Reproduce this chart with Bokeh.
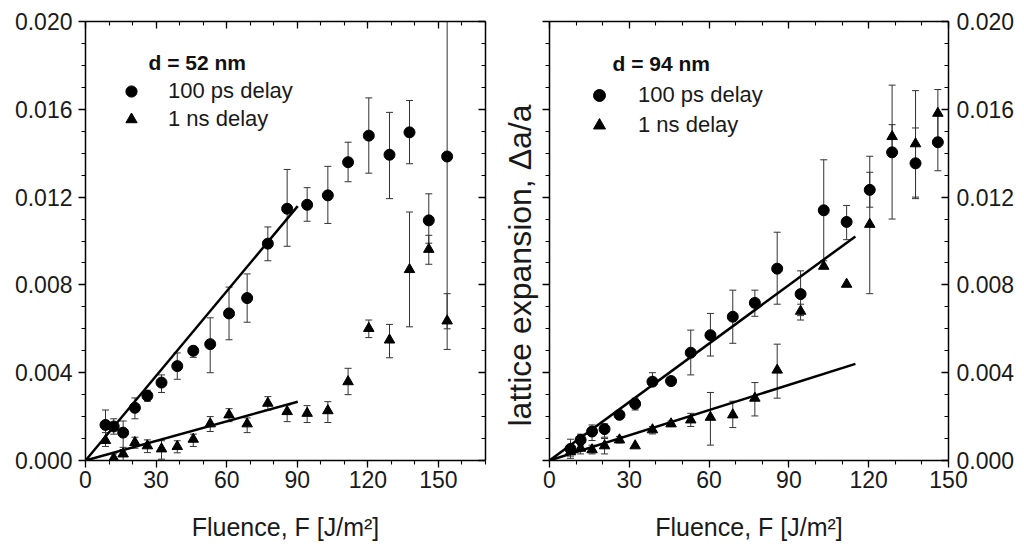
from bokeh.plotting import figure
from bokeh.models import (LinearAxis, SingleIntervalTicker, NumeralTickFormatter, Range1d,
                          Whisker, TeeHead, ColumnDataSource, Legend, LegendItem, Label,
                          CustomJSTickFormatter, Title)
from bokeh.layouts import row
from bokeh.embed import file_html
from bokeh.resources import INLINE

FONT = "Liberation Sans"

# ---------------- data: d = 52 nm ----------------
fluence_52 = [8.5, 12, 16, 21, 26.3, 32.3, 39, 45.8, 53, 61, 68.7, 77.5, 85.7, 94.2, 103,
              111.6, 120.4, 129.2, 137.7, 145.9, 153.7]
ps100_52 = [0.00162, 0.00155, 0.00127, 0.0024, 0.00295, 0.00355, 0.0043, 0.0050, 0.0053, 0.0067,
            0.0074, 0.00988, 0.01147, 0.01165, 0.01208, 0.01359, 0.0148, 0.01393, 0.01495,
            0.01094, 0.01385]
ps100_52_up = [0.0023, 0.0019, 0.0018, 0.00285, 0.0032, 0.0039, 0.0049, 0.0052, 0.0065, 0.0079,
               0.0085, 0.01064, 0.01326, 0.01243, 0.0134, 0.0145, 0.01652, 0.01586, 0.0164,
               0.01215, 0.0200]
ps100_52_lo = [0.00094, 0.0012, 0.0005, 0.0019, 0.0027, 0.0031, 0.0037, 0.0047, 0.0040, 0.0055,
               0.0063, 0.0091, 0.00976, 0.0109, 0.0108, 0.0127, 0.01309, 0.01193, 0.01352,
               0.0099, 0.0060]
ns1_52 = [0.00091, 0.0001, 0.0003, 0.00082, 0.00067, 0.00053, 0.00064, 0.00097, 0.00167, 0.00208,
          0.00167, 0.00261, 0.00223, 0.00215, 0.00227, 0.00359, 0.00602, 0.00549, 0.0087,
          0.00962, 0.00636]
ns1_52_up = [0.00127, 0.0003, 0.0006, 0.00106, 0.00094, 0.0009, 0.0009, 0.0012, 0.0020, 0.00236,
             0.00194, 0.00291, 0.00253, 0.0025, 0.00268, 0.0042, 0.0064, 0.0062, 0.01132,
             0.01026, 0.0076]
ns1_52_lo = [0.00064, 0.0, 0.0, 0.00056, 0.00036, 0.00006, 0.00035, 0.00064, 0.00132, 0.00177,
             0.00127, 0.0023, 0.00177, 0.00173, 0.00173, 0.0030, 0.0056, 0.00468, 0.00609,
             0.00894, 0.00506]
fit_x_52 = [0, 90.2]
fit_ps100_52 = [0, 0.01159]
fit_ns1_52 = [0, 0.00268]

# ---------------- data: d = 94 nm ----------------
fluence_94 = [7.9, 11.7, 16, 20.7, 26.3, 32.2, 38.7, 45.7, 53.1, 60.5, 68.9, 77.2, 85.6, 94.4,
              103.1, 111.7, 120.4, 128.8, 137.6, 146]
ps100_94 = [0.00053, 0.00094, 0.00132, 0.00143, 0.00208, 0.00258, 0.00359, 0.00362, 0.00491,
            0.00571, 0.00655, 0.00718, 0.00874, 0.00758, 0.0114, 0.01087, 0.01233, 0.01404,
            0.01354, 0.0145]
ps100_94_up = [0.00097, 0.0012, 0.00162, 0.00167, 0.00223, 0.00284, 0.0040, 0.0038, 0.00594,
               0.0067, 0.00776, 0.00776, 0.0104, 0.00864, 0.0137, 0.01162, 0.01313, 0.0171,
               0.01515, 0.0158]
ps100_94_lo = [0.0001, 0.0007, 0.00091, 0.00106, 0.00193, 0.0023, 0.0034, 0.00344, 0.0039,
               0.00476, 0.00534, 0.00657, 0.00712, 0.0066, 0.0091, 0.01006, 0.01154, 0.0110,
               0.01193, 0.0132]
ns1_94 = [0.0004, 0.00056, 0.00049, 0.00067, 0.00094, 0.00067, 0.0014, 0.00167, 0.00185, 0.00197,
          0.00208, 0.00284, 0.00412, 0.0068, 0.00885, 0.00803, 0.01076, 0.01476, 0.01443, 0.01582]
ns1_94_up = [0.0006, 0.0009, 0.0007, 0.0010, 0.0011, None, 0.00155, 0.0018, 0.00215, 0.0031,
             0.0027, 0.00355, 0.0053, 0.00712, None, None, 0.01386, 0.0153, 0.01685, 0.0169]
ns1_94_lo = [0.0002, 0.0003, 0.0003, 0.0003, 0.0008, None, 0.00121, 0.00155, 0.00155, 0.0007,
             0.0015, 0.00203, 0.00284, 0.0064, None, None, 0.0076, 0.0142, 0.0120, 0.0147]
fit_x_94 = [0, 115]
fit_ps100_94 = [0, 0.01021]
fit_ns1_94 = [0, 0.0044]

x_ticks_interval = 30
y_ticks_interval = 0.004
xlabel = "Fluence, F [J/m\u00b2]"
ylabel = "lattice expansion, \u0394a/a"


def add_axis(p, dim, side, labels, tick_dir, label_standoff=5):
    if dim == "x":
        ticker = SingleIntervalTicker(interval=x_ticks_interval, num_minor_ticks=3)
    else:
        ticker = SingleIntervalTicker(interval=y_ticks_interval, num_minor_ticks=4)
    ax = LinearAxis(ticker=ticker)
    if dim == "y":
        ax.formatter = NumeralTickFormatter(format="0.000")
    ax.axis_line_color = "black"
    ax.axis_line_width = 1.5
    ax.major_tick_line_color = "black"
    ax.major_tick_line_width = 1.3
    ax.minor_tick_line_color = "black"
    ax.minor_tick_line_width = 1.1
    if tick_dir == "out":
        ax.major_tick_out, ax.major_tick_in = 7, 0
        ax.minor_tick_out, ax.minor_tick_in = 4, 0
    else:
        ax.major_tick_out, ax.major_tick_in = 0, 7
        ax.minor_tick_out, ax.minor_tick_in = 0, 4
    if labels:
        ax.major_label_text_font = FONT
        ax.major_label_text_font_size = "23px"
        ax.major_label_text_color = "#1a1a1a"
        ax.major_label_standoff = label_standoff
    else:
        ax.formatter = CustomJSTickFormatter(code="return ''")
        ax.major_label_standoff = 0
    p.add_layout(ax, side)
    return ax


def errorbars(p, x, up, lo):
    xs, us, ls = [], [], []
    for a, u, l in zip(x, up, lo):
        if u is None or l is None:
            continue
        xs.append(a); us.append(u); ls.append(l)
    src = ColumnDataSource(dict(x=xs, upper=us, lower=ls))
    w = Whisker(base="x", upper="upper", lower="lower", source=src, dimension="height",
                line_color="#333333", line_width=1,
                upper_head=TeeHead(size=7, line_color="#333333", line_width=1),
                lower_head=TeeHead(size=7, line_color="#333333", line_width=1))
    p.add_layout(w)


def panel(xmax, frame_w, bl, br, x, c, cu, cl, t, tu, tl, fx, fc, ft, title, leg_xy, leg_gh,
          leg_standoff, title_xy, left_labels, right_labels, ylab):
    p = figure(frame_width=frame_w, frame_height=439, x_range=Range1d(0, xmax),
               y_range=Range1d(0, 0.02), output_backend="svg", toolbar_location=None,
               x_axis_location=None, y_axis_location=None,
               min_border_left=bl, min_border_right=br, min_border_top=21, min_border_bottom=88)
    p.outline_line_color = None
    p.background_fill_color = "white"
    p.border_fill_color = "white"
    for g in p.grid:
        g.visible = False

    bx = add_axis(p, "x", "below", True, "out", label_standoff=3)
    bx.axis_label = xlabel
    bx.axis_label_text_font = FONT
    bx.axis_label_text_font_size = "25px"
    bx.axis_label_text_font_style = "normal"
    bx.axis_label_text_color = "#1a1a1a"
    bx.axis_label_standoff = 22
    add_axis(p, "x", "above", False, "in")
    add_axis(p, "y", "left", left_labels, "out", label_standoff=6)
    add_axis(p, "y", "right", right_labels, "in", label_standoff=8)
    if ylab:
        p.add_layout(Title(text=ylab, align="left", offset=34, standoff=9,
                           text_font=FONT, text_font_size="32px", text_font_style="normal",
                           text_color="#1a1a1a"), "left")

    errorbars(p, x, cu, cl)
    errorbars(p, x, tu, tl)

    p.line(fx, fc, line_color="black", line_width=2.5)
    p.line(fx, ft, line_color="black", line_width=2.5)

    cr = p.scatter(x, c, marker="circle", size=11, fill_color="black", line_color="black")
    tr = p.scatter(x, t, marker="triangle", size=10.5, fill_color="black", line_color="black")

    leg = Legend(items=[LegendItem(label="100 ps delay", renderers=[cr]),
                        LegendItem(label="1 ns delay", renderers=[tr])],
                 location=leg_xy, glyph_width=32, glyph_height=leg_gh, spacing=0,
                 padding=0, margin=0, label_standoff=leg_standoff, label_height=leg_gh,
                 label_text_font=FONT, label_text_font_size="22px",
                 label_text_color="#1a1a1a",
                 border_line_alpha=0, background_fill_alpha=0)
    p.add_layout(leg)

    p.add_layout(Label(x=title_xy[0], y=title_xy[1], x_units="screen", y_units="screen",
                       text=title, text_font=FONT, text_font_size="21px",
                       text_font_style="bold", text_baseline="middle", text_align="left",
                       text_color="#111111"))
    return p


p1 = panel(170, 400, 85, 3, fluence_52, ps100_52, ps100_52_up, ps100_52_lo,
           ns1_52, ns1_52_up, ns1_52_lo, fit_x_52, fit_ps100_52, fit_ns1_52,
           "d = 52 nm", (30, 327), 28, 21, (63, 398), True, False, None)
p2 = panel(150, 399, 61, 63, fluence_94, ps100_94, ps100_94_up, ps100_94_lo,
           ns1_94, ns1_94_up, ns1_94_lo, fit_x_94, fit_ps100_94, fit_ns1_94,
           "d = 94 nm", (34, 320), 30, 23, (63, 397), False, True, ylabel)

layout = row(p1, p2)
open("out.html", "w").write(file_html(layout, INLINE))
